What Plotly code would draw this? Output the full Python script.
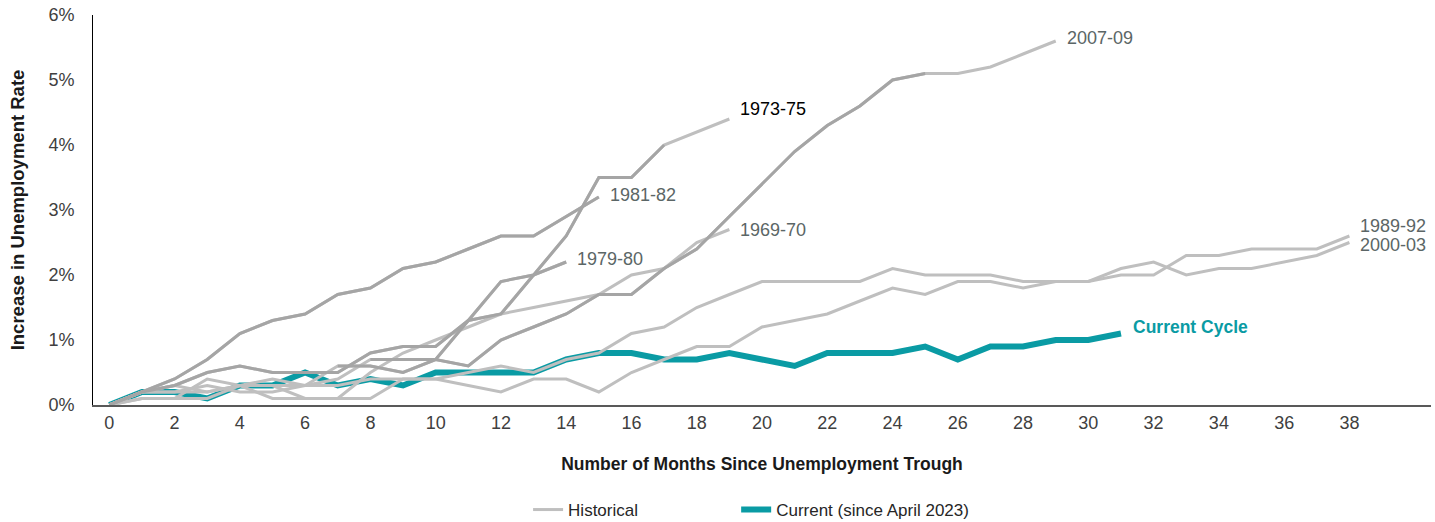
import plotly.graph_objects as go

# Increase in the unemployment rate (percentage points) by month since the cycle's trough
cycle_1969_70 = [0, 0.1, 0.1, 0.1, 0.3, 0.3, 0.1, 0.1, 0.5, 0.8, 1.0, 1.2, 1.4, 1.5, 1.6, 1.7, 2.0, 2.1, 2.5, 2.7]
cycle_1973_75 = [0, 0.2, 0.3, 0.5, 0.6, 0.5, 0.5, 0.5, 0.8, 0.9, 0.9, 1.3, 1.4, 2.0, 2.6, 3.5, 3.5, 4.0, 4.2, 4.4]
cycle_1979_80 = [0, 0.1, 0.1, 0.4, 0.3, 0.4, 0.3, 0.4, 0.7, 0.7, 0.7, 1.3, 1.9, 2.0, 2.2]
cycle_1981_82 = [0, 0.2, 0.4, 0.7, 1.1, 1.3, 1.4, 1.7, 1.8, 2.1, 2.2, 2.4, 2.6, 2.6, 2.9, 3.2]
cycle_1989_92 = [0, 0.2, 0.2, 0.3, 0.2, 0.2, 0.3, 0.3, 0.4, 0.4, 0.4, 0.3, 0.2, 0.4, 0.4, 0.2, 0.5, 0.7, 0.9, 0.9,
                 1.2, 1.3, 1.4, 1.6, 1.8, 1.7, 1.9, 1.9, 1.8, 1.9, 1.9, 2.0, 2.0, 2.3, 2.3, 2.4, 2.4, 2.4, 2.6]
cycle_2000_03 = [0, 0.2, 0.2, 0.2, 0.3, 0.1, 0.1, 0.1, 0.1, 0.4, 0.4, 0.5, 0.6, 0.5, 0.7, 0.8, 1.1, 1.2, 1.5, 1.7,
                 1.9, 1.9, 1.9, 1.9, 2.1, 2.0, 2.0, 2.0, 1.9, 1.9, 1.9, 2.1, 2.2, 2.0, 2.1, 2.1, 2.2, 2.3, 2.5]
cycle_2007_09 = [0, 0.2, 0.3, 0.2, 0.3, 0.3, 0.3, 0.6, 0.6, 0.5, 0.7, 0.6, 1.0, 1.2, 1.4, 1.7, 1.7, 2.1, 2.4, 2.9,
                 3.4, 3.9, 4.3, 4.6, 5.0, 5.1, 5.1, 5.2, 5.4, 5.6]
current_cycle = [0, 0.2, 0.2, 0.1, 0.3, 0.3, 0.5, 0.3, 0.4, 0.3, 0.5, 0.5, 0.5, 0.5, 0.7, 0.8, 0.8, 0.7, 0.7, 0.8,
                 0.7, 0.6, 0.8, 0.8, 0.8, 0.9, 0.7, 0.9, 0.9, 1.0, 1.0, 1.1]

cycle_names = ["1969-70", "1973-75", "1979-80", "1981-82", "1989-92", "2000-03", "2007-09"]
cycle_values = [cycle_1969_70, cycle_1973_75, cycle_1979_80, cycle_1981_82, cycle_1989_92, cycle_2000_03, cycle_2007_09]

# months (first, last) of each cycle's recession stretch, drawn in a darker grey
recession_months = {"1973-75": (0, 17), "1979-80": (8, 14), "1981-82": (0, 15), "2007-09": (7, 25)}

x_ticks = list(range(0, 39, 2))
y_ticks = [0, 1, 2, 3, 4, 5, 6]

FONT = "Liberation Sans, Arial, sans-serif"
LIGHT = "#BFBFBF"
DARK = "#A5A5A5"
TEAL = "#0A9BA4"
LABEL_GREY = "#5B6666"

fig = go.Figure()

# current cycle first so the historical lines sit on top of it
fig.add_trace(go.Scatter(
    x=list(range(len(current_cycle))), y=current_cycle, mode="lines",
    line=dict(color=TEAL, width=6), name="Current (since April 2023)",
    legend="legend2", hoverinfo="skip"))

for i, (name, vals) in enumerate(zip(cycle_names, cycle_values)):
    fig.add_trace(go.Scatter(
        x=list(range(len(vals))), y=vals, mode="lines",
        line=dict(color=LIGHT, width=3), name="Historical",
        legendgroup="hist", showlegend=(i == 0), legend="legend", hoverinfo="skip"))

for name, (a, b) in recession_months.items():
    vals = cycle_values[cycle_names.index(name)]
    fig.add_trace(go.Scatter(
        x=list(range(a, b + 1)), y=vals[a:b + 1], mode="lines",
        line=dict(color=DARK, width=3), showlegend=False, hoverinfo="skip"))

# end-of-line labels
label_style = {
    "2007-09": (LABEL_GREY, 3),
    "1973-75": ("#000000", 10),
    "1981-82": (LABEL_GREY, 2),
    "1969-70": (LABEL_GREY, 0),
    "1979-80": (LABEL_GREY, 3),
    "1989-92": (LABEL_GREY, 10),
    "2000-03": (LABEL_GREY, -2),
}
for name, vals in zip(cycle_names, cycle_values):
    color, dy = label_style[name]
    fig.add_annotation(x=len(vals) - 1, y=vals[-1], text=name, showarrow=False,
                       xanchor="left", yanchor="middle", xshift=9, yshift=dy,
                       font=dict(family=FONT, size=18, color=color))

fig.add_annotation(x=len(current_cycle) - 1, y=current_cycle[-1], text="<b>Current Cycle</b>",
                   showarrow=False, xanchor="left", yanchor="middle", xshift=10, yshift=7,
                   font=dict(family=FONT, size=17.5, color=TEAL))

legend_common = dict(orientation="h", xref="container", yref="container",
                     xanchor="left", y=0.023, yanchor="middle",
                     font=dict(family=FONT, size=17, color="#262626"),
                     bgcolor="rgba(0,0,0,0)")

fig.update_layout(
    width=1435, height=522,
    margin=dict(l=93, r=4, t=15, b=117),
    paper_bgcolor="white", plot_bgcolor="white",
    font=dict(family=FONT, color="#404040"),
    showlegend=True,
    legend=dict(x=0.368, **legend_common),
    legend2=dict(x=0.513, **legend_common),
)

fig.update_xaxes(
    range=[-0.5, 40.5], tickvals=x_ticks, ticktext=[str(v) for v in x_ticks],
    showgrid=False, zeroline=False, showline=True, linecolor="#595959", linewidth=2,
    ticks="", ticklabelstandoff=0, automargin=False,
    tickfont=dict(family=FONT, size=18, color="#404040"),
    title=dict(text="<b>Number of Months Since Unemployment Trough</b>", standoff=26,
               font=dict(family=FONT, size=17.5, color="#1A1A1A")),
)
fig.update_yaxes(
    range=[0, 6], tickvals=y_ticks, ticktext=[f"{v}%" for v in y_ticks],
    showgrid=False, zeroline=False, showline=True, linecolor="#000000", linewidth=1,
    ticks="", ticklabelstandoff=14, automargin=False,
    tickfont=dict(family=FONT, size=18, color="#404040"),
    title=dict(text="<b>Increase in Unemployment Rate</b>", standoff=18,
               font=dict(family=FONT, size=18.5, color="#1A1A1A")),
)

fig.write_html("out.html")
